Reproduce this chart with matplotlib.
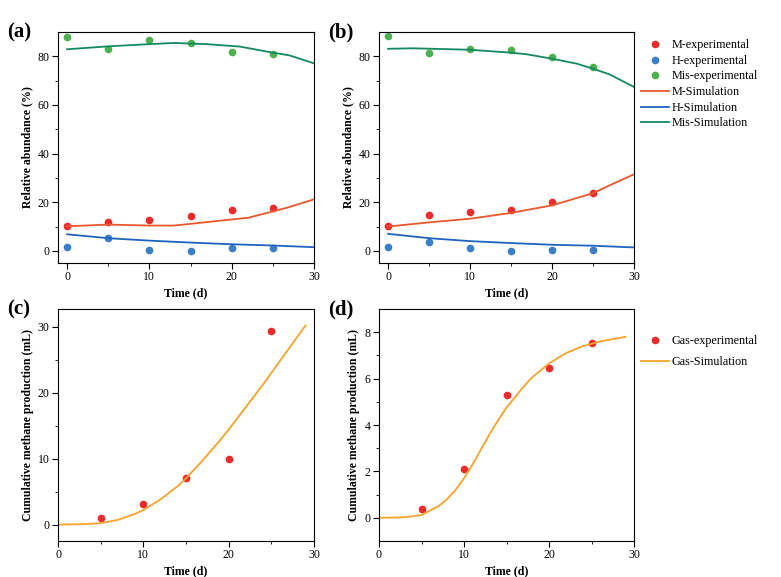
import numpy as np
import matplotlib.pyplot as plt

plt.rcParams['font.family'] = ['Liberation Serif', 'DejaVu Serif']
plt.rcParams['mathtext.fontset'] = 'stix'

# experimental data (days 0..25)
t_exp = [0, 5, 10, 15, 20, 25]
a_M = [10.4, 11.8, 12.6, 14.2, 16.8, 17.5]
a_H = [1.4, 5.1, 0.4, 0.1, 1.1, 1.2]
a_Mis = [88.1, 82.9, 86.8, 85.3, 81.8, 81.0]
b_M = [10.4, 14.7, 15.8, 17.0, 19.9, 23.9]
b_H = [1.4, 3.7, 1.1, 0.1, 0.3, 0.3]
b_Mis = [88.2, 81.5, 83.0, 82.7, 79.7, 75.7]

# simulation curves
a_tM = [0, 5, 10, 13, 15, 20, 22, 25, 27, 30]
a_sM = [10.1, 10.8, 10.4, 10.4, 11.1, 12.9, 13.6, 16.2, 18.0, 21.2]
a_tH = [0, 5, 10, 15, 20, 25, 30]
a_sH = [6.8, 5.2, 4.2, 3.4, 2.7, 2.2, 1.5]
a_tMis = [0, 5, 10, 13, 17, 21, 25, 27, 30]
a_sMis = [82.9, 84.1, 85.0, 85.5, 85.0, 84.0, 81.5, 80.4, 77.1]

b_tM = [0, 5, 10, 15, 20, 25, 27, 30]
b_sM = [10.0, 11.7, 13.2, 15.6, 18.7, 23.7, 26.9, 31.5]
b_tH = [0, 5, 10, 15, 20, 25, 30]
b_sH = [7.0, 5.2, 4.0, 3.2, 2.5, 2.1, 1.4]
b_tMis = [0, 3, 10, 15, 17, 20, 23, 25, 27, 30]
b_sMis = [83.1, 83.3, 82.7, 81.5, 80.8, 79.0, 77.0, 74.9, 72.6, 67.4]

# methane production
g_exp_t = [5, 10, 15, 20, 25]
c_gas = [1.0, 3.1, 7.1, 9.9, 29.3]
d_gas = [0.39, 2.09, 5.29, 6.46, 7.52]

c_t = [0, 3, 5, 7, 9, 10, 12, 14, 15, 17, 19, 20, 22, 24, 25, 27, 29]
c_sim = [0.0, 0.05, 0.2, 0.7, 1.6, 2.2, 3.8, 5.8, 7.0, 9.8, 12.8, 14.4, 17.8, 21.2, 23.0, 26.6, 30.2]
d_t = [0, 3, 5, 7, 8, 9, 10, 11, 12, 13, 14, 15, 16, 17, 18, 20, 22, 24, 26, 29]
d_sim = [0.0, 0.02, 0.12, 0.5, 0.8, 1.2, 1.7, 2.3, 2.95, 3.6, 4.2, 4.75, 5.2, 5.65, 6.05, 6.65, 7.1, 7.4, 7.6, 7.8]

c_red = '#EC2A2A'
c_blue = '#3A7DC9'
c_green = '#4DB04F'
l_M = '#E8582C'
l_H = '#1E63BE'
l_Mis = '#138A5C'
l_gas = '#F5A32A'

fig = plt.figure(figsize=(7.81, 5.77), dpi=100)
W, H = 781, 577
def add(x0, y0, x1, y1):
    return fig.add_axes((x0/W, 1-y1/H, (x1-x0)/W, (y1-y0)/H))

ax_a = add(58, 32, 314, 263)
ax_b = add(379, 32, 634, 263)
ax_c = add(58, 309, 314, 541)
ax_d = add(379, 309, 634, 541)

ms = 4.5
for ax, M, Hh, Mis, tm, sm, th, sh, tmis, smis in [
        (ax_a, a_M, a_H, a_Mis, a_tM, a_sM, a_tH, a_sH, a_tMis, a_sMis),
        (ax_b, b_M, b_H, b_Mis, b_tM, b_sM, b_tH, b_sH, b_tMis, b_sMis)]:
    ax.plot(t_exp, M, 'o', color=c_red, ms=ms, label='M-experimental')
    ax.plot(t_exp, Hh, 'o', color=c_blue, ms=ms, label='H-experimental')
    ax.plot(t_exp, Mis, 'o', color=c_green, ms=ms, label='Mis-experimental')
    ax.plot(tm, sm, '-', color=l_M, lw=1.3, label='M-Simulation')
    ax.plot(th, sh, '-', color=l_H, lw=1.3, label='H-Simulation')
    ax.plot(tmis, smis, '-', color=l_Mis, lw=1.3, label='Mis-Simulation')
    ax.set_xlim(-1.1, 30)
    ax.set_ylim(-5, 90)
    ax.set_xticks([0, 10, 20, 30])
    ax.set_xticks([5, 15, 25], minor=True)
    ax.set_yticks([0, 20, 40, 60, 80])
    ax.set_yticks([10, 30, 50, 70], minor=True)
    ax.set_ylabel('Relative abundance (%)', fontweight='bold', fontsize=8.5, labelpad=3)

ax_b.legend(loc='upper left', bbox_to_anchor=(1.0, 1.0), frameon=False,
            fontsize=8.7, handlelength=2.3, handletextpad=0.2,
            labelspacing=0.3, borderaxespad=0.2)

ax_c.plot(g_exp_t, c_gas, 'o', color=c_red, ms=ms, label='Gas-experimental')
ax_c.plot(c_t, c_sim, '-', color=l_gas, lw=1.3, label='Gas-Simulation')
ax_c.set_xlim(0, 30)
ax_c.set_ylim(-2.5, 32.7)
ax_c.set_yticks([0, 10, 20, 30])
ax_c.set_yticks([5, 15, 25], minor=True)

ax_d.plot(g_exp_t, d_gas, 'o', color=c_red, ms=ms, label='Gas-experimental')
ax_d.plot(d_t, d_sim, '-', color=l_gas, lw=1.3, label='Gas-Simulation')
ax_d.set_xlim(0, 30)
ax_d.set_ylim(-1, 9)
ax_d.set_yticks([0, 2, 4, 6, 8])
ax_d.set_yticks([1, 3, 5, 7], minor=True)
ax_d.legend(loc='upper left', bbox_to_anchor=(1.0, 0.92), frameon=False,
            fontsize=8.7, handlelength=2.3, handletextpad=0.2,
            labelspacing=0.75, borderaxespad=0.2)

for ax in [ax_c, ax_d]:
    ax.set_xticks([0, 10, 20, 30])
    ax.set_xticks([5, 15, 25], minor=True)
    ax.set_ylabel('Cumulative methane production (mL)', fontweight='bold', fontsize=8.5, labelpad=3)

for ax, lab in zip([ax_a, ax_b, ax_c, ax_d], ['(a)', '(b)', '(c)', '(d)']):
    ax.set_xlabel('Time (d)', fontweight='bold', fontsize=8.5, labelpad=3)
    ax.tick_params(which='both', direction='out', labelsize=8.5, top=False, right=False, pad=2)
    ax.tick_params(which='major', length=4)
    ax.tick_params(which='minor', length=2)
    for s in ax.spines.values():
        s.set_linewidth(0.8)
    ax.text(-0.2, 1.0, lab, transform=ax.transAxes, fontsize=15, fontweight='bold',
            va='center', ha='left')

fig.savefig('out.png', dpi=100)
